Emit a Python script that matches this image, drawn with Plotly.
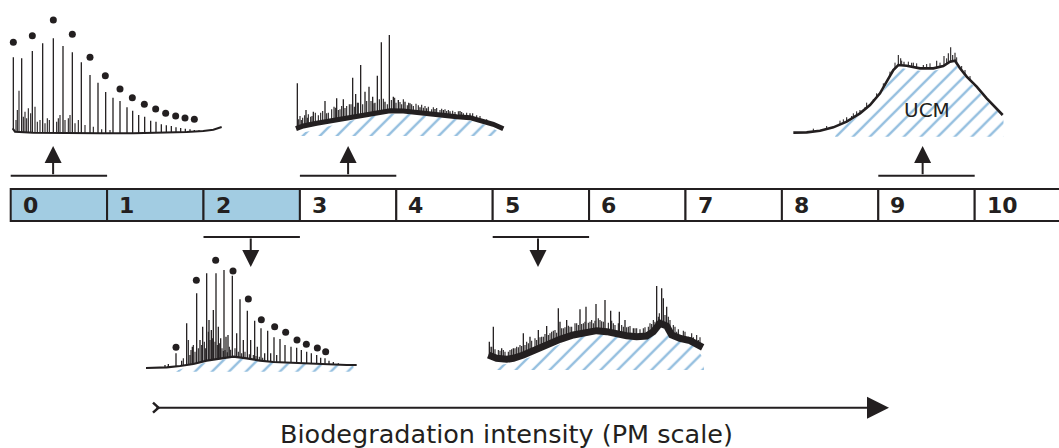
import numpy as np
import plotly.graph_objects as go

# ============================== DATA ==============================
pm_levels = ["0", "1", "2", "3", "4", "5", "6", "7", "8", "9", "10"]
shaded_levels = ["0", "1", "2"]
axis_title = "Biodegradation intensity (PM scale)"
ucm_label = "UCM"

# ---- PM 0 : fresh oil (retention in scans, abundance in arbitrary units)
pm0_env_rt = [38, 45, 100, 200, 300, 400, 500, 560, 610, 640, 665]
pm0_env_ab = [15, 5, 2, 0, 0, 0, 2, 4, 7, 11, 19]
pm0_alkane_rt = [40, 65, 97, 128, 160, 189, 217, 244, 270, 294, 317, 339, 360, 381, 398,
                 416, 434, 452, 468, 484, 499, 514, 528, 542, 556, 570, 583, 597, 610]
pm0_alkane_ab = [228, 225, 247, 270, 285, 262, 243, 213, 175, 152, 124, 107, 97, 78, 68,
                 55, 50, 38, 35, 27, 24, 22, 18, 16, 14, 12, 10, 9, 8]
pm0_minor_rt = [48, 52, 57, 70, 75, 80, 85, 92, 105, 112, 120, 135, 142, 148, 170, 175,
                180, 195, 205, 210, 225, 235, 255, 280, 305, 330]
pm0_minor_ab = [40, 70, 128, 50, 65, 45, 75, 60, 80, 35, 40, 30, 45, 40, 35, 45,
                55, 40, 45, 55, 30, 40, 25, 20, 12, 10]
pm0_dot_rt = [40, 97, 160, 217, 270, 316, 360, 397, 433, 467, 497, 527, 555, 583]
pm0_dot_ab = [273, 293, 340, 297, 228, 173, 133, 107, 87, 73, 60, 52, 46, 42]

# ---- PM 2
pm2_env_rt = [18, 80, 120, 160, 200, 240, 280, 320, 360, 400, 440, 500, 560, 620, 650]
pm2_env_ab = [11, 13, 17, 23, 33, 40, 45, 40, 33, 29, 27, 25, 23, 20, 20]
pm2_peak_rt = [75, 85, 108, 125, 140, 150, 157, 170, 180, 188, 200, 207, 214, 220, 228,
               235, 242, 252, 258, 264, 277, 290, 300, 310, 322, 332, 344, 352, 363, 374,
               383, 392, 402, 410, 420, 435, 453, 470, 484, 500, 514, 530, 542, 555, 567,
               580, 595]
pm2_peak_ab = [20, 23, 55, 33, 145, 50, 75, 235, 95, 135, 295, 155, 125, 185, 295,
               135, 100, 305, 105, 110, 288, 115, 217, 95, 183, 95, 153, 75, 130, 55,
               123, 55, 103, 50, 98, 80, 75, 72, 65, 60, 55, 50, 42, 40, 33,
               29, 25]
pm2_minor_rt = [130, 145, 153, 160, 165, 175, 185, 193, 197, 205, 210, 218, 225, 232, 238,
                246, 250, 255, 262, 268, 272, 285, 295, 305, 315, 328, 340, 348, 358, 368]
pm2_minor_ab = [40, 95, 65, 80, 60, 70, 80, 90, 70, 120, 95, 100, 90, 80, 85,
                70, 62, 65, 58, 75, 66, 70, 60, 55, 60, 52, 50, 47, 45, 42]
pm2_dot_rt = [108, 169, 227, 279, 325, 364, 404, 437, 471, 499, 532, 557]
pm2_dot_ab = [73, 274, 334, 302, 218, 156, 135, 118, 95, 82, 71, 60]
pm2_ucm_rt = [105, 115, 160, 220, 280, 340, 420, 520, 600, 640, 645]
pm2_ucm_ab = [0, 5, 20, 32, 42, 36, 27, 23, 19, 17, 0]

# ---- PM 3
pm3_env_rt = [18, 40, 80, 120, 160, 200, 250, 300, 340, 380, 420, 460, 500, 540, 580, 610, 640]
pm3_env_ab = [22, 30, 38, 45, 52, 60, 70, 76, 75, 70, 65, 62, 58, 55, 45, 35, 22]
pm3_peak_rt = [22, 48, 70, 105, 140, 160, 188, 197, 212, 225, 237, 248, 262, 274, 285,
               298, 310, 325, 345, 360, 390, 410, 435, 460, 480, 510, 540]
pm3_peak_ab = [158, 78, 73, 105, 113, 110, 175, 126, 213, 133, 148, 118, 181, 281, 103,
               303, 118, 108, 103, 98, 86, 83, 81, 78, 74, 75, 68]
pm3_minor_rt = [26, 30, 34, 38, 44, 52, 55, 62, 66, 76, 85, 92, 98, 110, 115, 125, 132,
                136, 145, 150, 155, 165, 170, 178, 183, 193, 202, 205, 218, 230, 243,
                252, 255, 268, 280, 292, 304, 314, 318, 330, 335, 340, 352, 356, 365,
                370, 378, 385, 395, 400, 405, 415, 425, 430, 440, 450, 455, 465, 470,
                475, 488, 495, 505, 515, 520, 530, 548, 560, 570, 590]
pm3_minor_ab = [50, 60, 48, 55, 62, 55, 65, 58, 60, 70, 62, 70, 75, 68, 70, 80, 88,
                85, 78, 80, 90, 84, 90, 95, 95, 88, 100, 100, 95, 105, 105,
                98, 100, 110, 112, 95, 108, 115, 100, 102, 95, 110, 92, 100, 95,
                90, 97, 92, 94, 85, 90, 88, 80, 86, 84, 78, 82, 80, 75,
                78, 76, 72, 74, 72, 68, 70, 68, 62, 60, 50]
pm3_ucm_rt = [25, 30, 60, 100, 150, 200, 250, 300, 350, 400, 450, 500, 550, 590, 625, 632]
pm3_ucm_ab = [0, 8, 15, 25, 38, 50, 60, 66, 67, 62, 56, 50, 44, 32, 14, 0]

# ---- PM 5
pm5_env_rt = [25, 50, 80, 100, 130, 160, 200, 240, 280, 320, 350, 380, 410, 440, 470, 500,
              520, 540, 560, 575, 600, 630, 668]
pm5_env_ab = [45, 35, 32, 35, 45, 58, 78, 92, 105, 113, 118, 115, 108, 103, 100, 102,
              115, 140, 132, 105, 95, 88, 68]
pm5_peak_rt = [28, 40, 65, 100, 130, 150, 175, 200, 235, 240, 260, 300, 318, 348, 375,
               392, 418, 435, 460, 530, 545, 550, 560]
pm5_peak_ab = [85, 130, 65, 65, 110, 100, 120, 132, 185, 145, 150, 182, 190, 198, 210,
               178, 175, 150, 125, 252, 245, 215, 190]
pm5_minor_rt = [30, 35, 45, 55, 60, 70, 75, 85, 90, 95, 105, 110, 115, 120, 125, 135, 140,
                145, 155, 165, 170, 180, 185, 190, 195, 205, 210, 215, 220, 225, 230,
                245, 250, 255, 265, 270, 275, 285, 290, 295, 305, 310, 315, 325, 330,
                335, 340, 345, 355, 360, 365, 370, 385, 395, 400, 405, 415, 425, 430,
                440, 445, 450, 465, 470, 480, 490, 495, 505, 510, 515, 520, 525, 535,
                538, 555, 565, 570, 580, 585, 590, 595, 605, 610, 615, 625, 635, 640,
                650, 655, 660]
pm5_minor_ab = [70, 70, 62, 60, 58, 60, 55, 55, 60, 62, 65, 70, 68, 75, 72, 75, 85,
                80, 88, 95, 90, 98, 100, 100, 108, 105, 110, 115, 118, 120, 112,
                125, 125, 128, 133, 130, 130, 140, 140, 135, 138, 140, 145, 142, 145,
                150, 140, 148, 155, 150, 146, 145, 142, 148, 140, 135, 140, 135, 130,
                128, 130, 132, 125, 125, 122, 125, 128, 130, 140, 138, 150, 145, 160,
                170, 165, 160, 150, 135, 130, 115, 122, 105, 118, 115, 100, 110, 98,
                105, 90, 98]
pm5_ucm_rt = [18, 20, 60, 100, 150, 200, 250, 300, 350, 380, 420, 470, 510, 545, 570,
              600, 640, 670, 672]
pm5_ucm_ab = [0, 2, 15, 22, 38, 60, 82, 100, 115, 112, 102, 95, 105, 122, 110,
              88, 78, 35, 0]

# ---- PM 9
pm9_env_rt = [40, 80, 120, 160, 200, 240, 270, 300, 320, 340, 355, 380, 420, 460, 490,
              510, 525, 540, 560, 590, 620, 650, 668]
pm9_env_ab = [12, 13, 18, 28, 45, 70, 95, 130, 165, 200, 215, 213, 205, 205, 212,
              225, 228, 205, 180, 150, 115, 85, 65]
pm9_peak_rt = [200, 215, 240, 255, 280, 355, 362, 372, 395, 430, 470, 492, 505, 512, 518, 525]
pm9_peak_ab = [58, 62, 80, 88, 112, 245, 235, 225, 222, 215, 228, 242, 250, 268, 245, 252]
pm9_minor_rt = [100, 140, 180, 190, 220, 230, 260, 290, 310, 330, 345, 365, 385, 400, 410,
                440, 450, 480, 500, 530, 545, 555, 570]
pm9_minor_ab = [24, 32, 48, 52, 70, 76, 102, 130, 160, 195, 222, 228, 225, 222, 220,
                218, 220, 222, 235, 238, 212, 200, 182]
pm9_ucm_rt = [165, 170, 200, 240, 270, 300, 320, 340, 355, 420, 460, 490, 525, 540, 560,
              590, 620, 650, 670, 672]
pm9_ucm_ab = [0, 24, 40, 64, 88, 122, 156, 192, 207, 198, 198, 204, 220, 198, 173,
              143, 108, 78, 58, 0]
pm9_label_rt, pm9_label_ab = 440, 80

# ============================ LAYOUT ============================
FIG_W, FIG_H = 1059, 448
SCALE_LEFT, SCALE_STEP = 10.7, 96.4          # px
BAR_TOP, BAR_BOT = 189, 221                  # px rows
INK = "#231f20"
BLUE_FILL = "#a2cce2"
HATCH = "#2a7fbf"


def u(px):
    return (px - SCALE_LEFT) / SCALE_STEP


insets = [
    dict(level="0", box=(0, 0, 230, 150), xr=(0, 690), yr=(-50, 400),
         env=(pm0_env_rt, pm0_env_ab), env_w=2,
         peaks=[(pm0_alkane_rt, pm0_alkane_ab, 1.3), (pm0_minor_rt, pm0_minor_ab, 1.1)],
         dots=(pm0_dot_rt, pm0_dot_ab), ucm=None),
    dict(level="3", box=(290, 30, 220, 120), xr=(0, 660), yr=(-42, 318),
         env=(pm3_env_rt, pm3_env_ab), env_w=5,
         peaks=[(pm3_peak_rt, pm3_peak_ab, 1.3), (pm3_minor_rt, pm3_minor_ab, 1.1)],
         dots=None, ucm=(pm3_ucm_rt, pm3_ucm_ab)),
    dict(level="9", box=(780, 40, 230, 110), xr=(0, 690), yr=(-40, 290),
         env=(pm9_env_rt, pm9_env_ab), env_w=2.6,
         peaks=[(pm9_peak_rt, pm9_peak_ab, 1.1), (pm9_minor_rt, pm9_minor_ab, 1.0)],
         dots=None, ucm=(pm9_ucm_rt, pm9_ucm_ab)),
    dict(level="2", box=(140, 240, 230, 140), xr=(0, 690), yr=(-25, 395),
         env=(pm2_env_rt, pm2_env_ab), env_w=2.2,
         peaks=[(pm2_peak_rt, pm2_peak_ab, 1.3), (pm2_minor_rt, pm2_minor_ab, 1.1)],
         dots=(pm2_dot_rt, pm2_dot_ab), ucm=(pm2_ucm_rt, pm2_ucm_ab)),
    dict(level="5", box=(480, 270, 240, 110), xr=(0, 720), yr=(-30, 300),
         env=(pm5_env_rt, pm5_env_ab), env_w=7,
         peaks=[(pm5_peak_rt, pm5_peak_ab, 1.3), (pm5_minor_rt, pm5_minor_ab, 1.1)],
         dots=None, ucm=(pm5_ucm_rt, pm5_ucm_ab)),
]

# bracket + arrow linking a PM level to its chromatogram
brackets = [("0", "above", 0.44), ("3", "above", 3.5), ("9", "above", 9.46),
            ("2", "below", 2.49), ("5", "below", 5.47)]
ABOVE_LINE, ABOVE_TIP = 175.7, 146
BELOW_LINE, BELOW_TIP = 237, 267

fig = go.Figure()
layout_axes = {}

for k, ins in enumerate(insets, start=2):
    x0, y0, w, h = ins["box"]
    xa, ya = f"x{k}", f"y{k}"
    layout_axes[f"xaxis{k}"] = dict(domain=[x0 / FIG_W, (x0 + w) / FIG_W], range=list(ins["xr"]),
                                    visible=False, anchor=ya, fixedrange=True)
    layout_axes[f"yaxis{k}"] = dict(domain=[1 - (y0 + h) / FIG_H, 1 - y0 / FIG_H],
                                    range=list(ins["yr"]), visible=False, anchor=xa,
                                    fixedrange=True)
    if ins["ucm"] is not None:
        fig.add_trace(go.Scatter(
            x=ins["ucm"][0], y=ins["ucm"][1], mode="lines", line=dict(width=0),
            fill="tozeroy", fillcolor="rgba(0,0,0,0)",
            fillpattern=dict(shape="/", fgcolor=HATCH, bgcolor="rgba(0,0,0,0)",
                             size=12, solidity=0.2),
            xaxis=xa, yaxis=ya, hoverinfo="skip"))
    env_rt, env_ab = ins["env"]
    for p_rt, p_ab, lw in ins["peaks"]:
        xs, ys = [], []
        for r, a in zip(p_rt, p_ab):
            base = float(np.interp(r, env_rt, env_ab))
            xs += [r, r, None]
            ys += [base, a, None]
        fig.add_trace(go.Scatter(x=xs, y=ys, mode="lines",
                                 line=dict(color=INK, width=lw),
                                 xaxis=xa, yaxis=ya, hoverinfo="skip"))
    fig.add_trace(go.Scatter(x=env_rt, y=env_ab, mode="lines",
                             line=dict(color=INK, width=ins["env_w"]),
                             xaxis=xa, yaxis=ya, hoverinfo="skip"))
    if ins["dots"] is not None:
        fig.add_trace(go.Scatter(x=ins["dots"][0], y=ins["dots"][1], mode="markers",
                                 marker=dict(color=INK, size=7),
                                 xaxis=xa, yaxis=ya, hoverinfo="skip"))

shapes = []
annotations = []

# PM scale bar
for i, lab in enumerate(pm_levels):
    shapes.append(dict(type="rect", xref="x", yref="y", x0=i, x1=i + 1,
                       y0=BAR_TOP, y1=BAR_BOT,
                       fillcolor=BLUE_FILL if lab in shaded_levels else "white",
                       line=dict(color=INK, width=2), layer="above"))
    annotations.append(dict(x=i + 0.105, y=205.5, xref="x", yref="y", text=f"<b>{lab}</b>",
                            showarrow=False, xanchor="left", yanchor="middle",
                            font=dict(family="DejaVu Sans", size=22, color=INK)))

# brackets with arrows
for lab, side, stem in brackets:
    i = pm_levels.index(lab)
    line_y = ABOVE_LINE if side == "above" else BELOW_LINE
    tip_y = ABOVE_TIP if side == "above" else BELOW_TIP
    shapes.append(dict(type="line", xref="x", yref="y", x0=i, x1=i + 1,
                       y0=line_y, y1=line_y, line=dict(color=INK, width=2)))
    annotations.append(dict(x=stem, y=tip_y, ax=stem, ay=line_y, xref="x", yref="y",
                            axref="x", ayref="y", text="", showarrow=True,
                            arrowhead=2, arrowsize=1.7, arrowwidth=2, arrowcolor=INK,
                            standoff=0, startstandoff=0))

# UCM label
annotations.append(dict(x=pm9_label_rt, y=pm9_label_ab, xref="x4", yref="y4", text=ucm_label,
                        showarrow=False, xanchor="center", yanchor="middle",
                        font=dict(family="DejaVu Sans", size=20, color=INK)))

# big intensity arrow
ARROW_Y = 407.7
annotations.append(dict(x=u(889), y=ARROW_Y, ax=u(155), ay=ARROW_Y, xref="x", yref="y",
                        axref="x", ayref="y", text="", showarrow=True, arrowhead=2,
                        arrowsize=2.2, arrowwidth=2, arrowcolor=INK, standoff=0))
shapes.append(dict(type="path", xref="x", yref="y",
                   path=f"M {u(153)},{ARROW_Y - 5} L {u(158.5)},{ARROW_Y} L {u(153)},{ARROW_Y + 5}",
                   line=dict(color=INK, width=2.5)))
annotations.append(dict(x=u(506.7), y=433.5, xref="x", yref="y", text=axis_title,
                        showarrow=False, xanchor="center", yanchor="middle",
                        font=dict(family="DejaVu Sans", size=25.5, color=INK)))

fig.update_layout(
    width=FIG_W, height=FIG_H, margin=dict(l=0, r=0, t=0, b=0),
    paper_bgcolor="white", plot_bgcolor="rgba(0,0,0,0)", showlegend=False,
    xaxis=dict(domain=[0, 1], range=[u(0), u(FIG_W)], visible=False, fixedrange=True),
    yaxis=dict(domain=[0, 1], range=[FIG_H, 0], visible=False, fixedrange=True),
    shapes=shapes, annotations=annotations, **layout_axes)

fig.write_html("out.html")
